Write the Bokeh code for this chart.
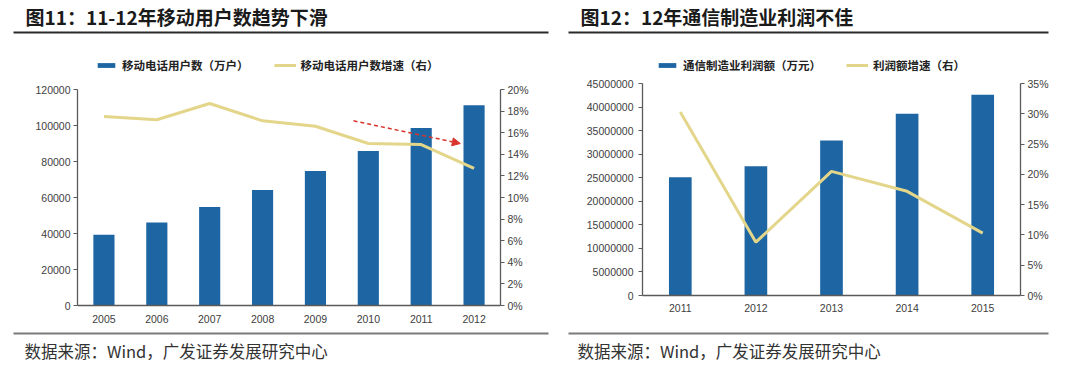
from bokeh.plotting import figure
from bokeh.layouts import row, column
from bokeh.models import (Range1d, FactorRange, LinearAxis, FixedTicker, NumeralTickFormatter,
                          PrintfTickFormatter, Label, BoxAnnotation, Legend, LegendItem, Arrow, NormalHead)
from bokeh.embed import file_html
from bokeh.resources import INLINE

# ---------------- data ----------------
title1 = "图11：11-12年移动用户数趋势下滑"
years1 = ["2005", "2006", "2007", "2008", "2009", "2010", "2011", "2012"]
users = [39300, 46100, 54700, 64100, 74700, 85900, 98600, 111200]          # 万户
users_growth = [17.5, 17.2, 18.7, 17.1, 16.6, 15.0, 14.9, 12.7]           # %
legend1 = ["移动电话用户数（万户）", "移动电话用户数增速（右）"]
left_ticks1 = [0, 20000, 40000, 60000, 80000, 100000, 120000]
right_ticks1 = [0, 2, 4, 6, 8, 10, 12, 14, 16, 18, 20]
# dashed trend arrow (category position, % on right axis)
arrow_from = (5.22, 17.1)
arrow_to = (7.24, 15.0)

title2 = "图12：12年通信制造业利润不佳"
years2 = ["2011", "2012", "2013", "2014", "2015"]
profit = [25100000, 27450000, 32900000, 38600000, 42600000]                # 万元
profit_growth = [30.3, 8.8, 20.5, 17.2, 10.3]                              # %
legend2 = ["通信制造业利润额（万元）", "利润额增速（右）"]
left_ticks2 = [0, 5000000, 10000000, 15000000, 20000000, 25000000, 30000000,
               35000000, 40000000, 45000000]
right_ticks2 = [0, 5, 10, 15, 20, 25, 30, 35]

source_text = "数据来源：Wind，广发证券发展研究中心"

BAR = "#1E66A3"
LINE = "#E3D68A"
AXIS = "#5a5a5a"
TICKTXT = "#404040"
CJK = "Noto Sans CJK SC"
LAT = "Liberation Sans"


def blank(W, H):
    f = figure(x_range=Range1d(0, W), y_range=Range1d(0, H), width=W, height=H,
               min_border=0, output_backend="svg", toolbar_location=None, tools="")
    f.axis.visible = False
    f.grid.visible = False
    f.outline_line_color = None
    f.background_fill_color = "white"
    f.border_fill_color = "white"
    return f


def rule(f, l, r, y, color):
    f.add_layout(BoxAnnotation(left=l, right=r, top=y - 1, bottom=y + 1,
                               left_units="canvas", right_units="canvas",
                               top_units="canvas", bottom_units="canvas",
                               fill_color=color, fill_alpha=1, line_color=None))


def header(W, H, title, title_x, rule_l, rule_r, leg, leg_x, leg_y):
    h = blank(W, H)
    h.add_layout(Label(x=title_x, y=16, x_units="canvas", y_units="canvas", text=title,
                       text_font=CJK, text_font_size="19px", text_font_style="bold",
                       text_color="#1a1a1a", text_baseline="middle"))
    rule(h, rule_l, rule_r, 32, "#2a2a2a")
    # legend-only renderers, placed outside the visible header range
    rb = h.vbar(x=[-50], top=[-50], width=1, fill_color=BAR, line_color=None)
    rl = h.line(x=[-50, -40], y=[-50, -50], line_color=LINE, line_width=3)
    legend = Legend(items=[LegendItem(label=leg[0], renderers=[rb]),
                           LegendItem(label=leg[1], renderers=[rl])],
                    orientation="horizontal", location=(leg_x, leg_y),
                    padding=0, margin=0, spacing=25, label_standoff=5,
                    glyph_width=22, glyph_height=6, label_height=12,
                    border_line_color=None, background_fill_alpha=0,
                    label_text_font=CJK, label_text_font_size="11.5px",
                    label_text_font_style="bold", label_text_color="#222222")
    h.add_layout(legend)
    return h


def footer(W, H, rule_l, rule_r, foot_x):
    f = blank(W, H)
    rule(f, rule_l, rule_r, 4, "#7a7a7a")
    f.add_layout(Label(x=foot_x, y=21, x_units="canvas", y_units="canvas", text=source_text,
                       text_font=CJK, text_font_size="16.5px", text_color="#333333",
                       text_baseline="middle"))
    return f


def style_axis(ax):
    ax.axis_line_color = AXIS
    ax.axis_line_width = 1.3
    ax.major_tick_line_color = AXIS
    ax.major_tick_out = 4
    ax.major_tick_in = 0
    ax.minor_tick_line_color = None
    ax.major_label_text_font = LAT
    ax.major_label_text_font_size = "10.5px"
    ax.major_label_text_color = TICKTXT
    ax.major_label_standoff = 3


def chart(W, fl, ft, fw, fh, fb, cats, bars, line, ymax, rmax, lt, rt, bar_w, ystand, xstand):
    p = figure(x_range=FactorRange(factors=cats), y_range=Range1d(0, ymax),
               frame_width=fw, frame_height=fh,
               min_border_left=fl, min_border_top=ft,
               min_border_right=W - fl - fw, min_border_bottom=fb,
               output_backend="svg", toolbar_location=None, tools="")
    p.outline_line_color = None
    p.xgrid.grid_line_color = None
    p.ygrid.grid_line_color = None
    p.background_fill_color = "white"
    p.border_fill_color = "white"
    p.extra_y_ranges = {"r": Range1d(0, rmax)}

    p.vbar(x=cats, top=bars, width=bar_w, fill_color=BAR, line_color=None)
    p.line(x=cats, y=line, y_range_name="r", line_color=LINE, line_width=3)

    p.yaxis.ticker = FixedTicker(ticks=lt)
    p.yaxis.formatter = NumeralTickFormatter(format="0")
    style_axis(p.yaxis[0])
    p.yaxis[0].major_label_standoff = ystand

    ra = LinearAxis(y_range_name="r", ticker=FixedTicker(ticks=rt),
                    formatter=PrintfTickFormatter(format="%d%%"))
    style_axis(ra)
    p.add_layout(ra, "right")

    xa = p.xaxis[0]
    style_axis(xa)
    xa.major_tick_line_color = None
    xa.major_label_standoff = xstand
    return p


# panel 1
h1 = header(558, 81, title1, 25, 13, 548, legend1, 95, 8)
c1 = chart(558, 77, 8, 423, 216, 24, years1, users, users_growth, 120000, 20,
           left_ticks1, right_ticks1, 0.4, 3, 5)
c1.add_layout(Arrow(x_start=arrow_from[0], y_start=arrow_from[1], x_end=arrow_to[0], y_end=arrow_to[1],
                    y_range_name="r", line_color="#D8342C", line_width=1.5, line_dash="4 3",
                    end=NormalHead(size=8, fill_color="#D8342C", line_color="#D8342C")))
f1 = footer(558, 40, 13, 548, 24)

# panel 2
h2 = header(522, 75, title2, 22, 10, 490, legend2, 98, 2)
c2 = chart(522, 84, 8, 378, 212, 34, years2, profit, profit_growth, 45000000, 35,
           left_ticks2, right_ticks2, 0.3, 5, 4)
f2 = footer(522, 40, 10, 490, 19)

layout = row(column(row(h1), c1, row(f1), spacing=0),
             column(row(h2), c2, row(f2), spacing=0), spacing=0)
open("out.html", "w").write(file_html(layout, INLINE))
